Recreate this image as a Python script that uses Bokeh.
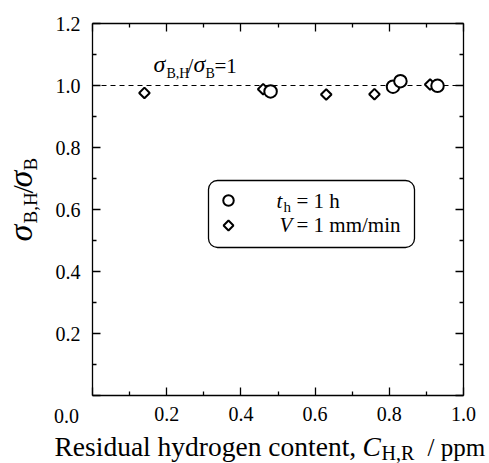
import numpy as np
from bokeh.plotting import figure
from bokeh.models import (Label, BoxAnnotation, LinearAxis, FixedTicker,
                          PrintfTickFormatter, Range1d)
from bokeh.embed import file_html
from bokeh.resources import INLINE

# ---- data ----
circle_x = [0.48, 0.81, 0.83, 0.93]
circle_y = [0.981, 0.996, 1.014, 0.999]
diamond_x = [0.14, 0.46, 0.63, 0.76, 0.91]
diamond_y = [0.976, 0.988, 0.971, 0.972, 1.003]
ref_ratio = 1.0
x_major = [0.0, 0.2, 0.4, 0.6, 0.8, 1.0]
x_minor = [0.1, 0.3, 0.5, 0.7, 0.9]
y_major = [0.0, 0.2, 0.4, 0.6, 0.8, 1.0, 1.2]
y_minor = [0.1, 0.3, 0.5, 0.7, 0.9, 1.1]

W, H = 489, 463
FL, FR, FT, FB = 92, 463, 23, 395          # plot box in page pixels
XMIN, XMAX, YMIN, YMAX = 0.0, 1.0, 0.0, 1.2
FONT = "'Liberation Serif', 'Times New Roman', Times, serif"
K = 0.38   # baseline compensation (fraction of font size)

def dx(px):
    return XMIN + (px - FL) / (FR - FL) * (XMAX - XMIN)

def dy(py):
    return YMIN + (FB - py) / (FB - FT) * (YMAX - YMIN)

# the drawing frame covers the whole page; axes are pinned to the plot box
p = figure(width=W, height=H,
           x_range=Range1d(dx(0), dx(W)), y_range=Range1d(dy(H), dy(0)),
           output_backend="svg", toolbar_location=None,
           min_border=0, min_border_left=0, min_border_right=0,
           min_border_top=0, min_border_bottom=0,
           x_axis_location=None, y_axis_location=None)
p.grid.visible = False
p.outline_line_color = None
p.background_fill_color = "white"
p.border_fill_color = "white"

def make_axis(loc, fixed, bounds, ticks, minor, labels=True, standoff=8):
    ax = LinearAxis(ticker=FixedTicker(ticks=ticks, minor_ticks=minor),
                    fixed_location=fixed, bounds=bounds)
    ax.axis_line_color = "black"
    ax.axis_line_width = 1.3
    ax.major_tick_in = 8
    ax.major_tick_out = 0
    ax.minor_tick_in = 4
    ax.minor_tick_out = 0
    ax.major_tick_line_width = 1.3
    ax.minor_tick_line_width = 1.3
    ax.major_label_text_font = FONT
    ax.major_label_text_font_size = "20px"
    ax.major_label_text_color = "black"
    ax.formatter = PrintfTickFormatter(format="%.1f")
    ax.major_label_standoff = standoff
    if labels:
        ax.major_label_overrides = {0: ""}
    else:
        ax.major_label_overrides = {t: "" for t in ticks}
    p.add_layout(ax, loc)
    return ax

make_axis("below", YMIN, (XMIN, XMAX), x_major, x_minor, True, 11)
make_axis("above", YMAX, (XMIN, XMAX), x_major, x_minor, False)
make_axis("left", XMIN, (YMIN, YMAX), y_major, y_minor, True, 12)
make_axis("right", XMAX, (YMIN, YMAX), y_major, y_minor, False)

# reference line sigma_BH/sigma_B = 1
p.segment(x0=[XMIN], y0=[ref_ratio], x1=[XMAX], y1=[ref_ratio],
          line_color="black", line_width=1.2, line_dash="5 4")

# data
p.scatter(diamond_x, diamond_y, marker="square", angle=np.pi / 4, size=7.5,
          fill_color="white", line_color="black", line_width=2)
p.scatter(circle_x, circle_y, marker="circle", size=12.5,
          fill_color="white", line_color="black", line_width=2)

def lab(text, px, py, size, italic=False, rotated=False, align="left"):
    """px, py: start of the text on its baseline, in page pixels."""
    if rotated:
        px = px - K * size
        angle = np.pi / 2
    else:
        py = py - K * size
        angle = 0.0
    p.add_layout(Label(x=dx(px), y=dy(py), text=text, text_font=FONT,
                       text_font_size=f"{size}px",
                       text_font_style="italic" if italic else "normal",
                       text_color="black", angle=angle,
                       text_align=align, text_baseline="alphabetic"))

# origin label
p.add_layout(Label(x=dx(66), y=dy(415), text="0.0", text_font=FONT,
                   text_font_size="20px", text_color="black",
                   text_align="center", text_baseline="middle"))

# annotation sigma_BH/sigma_B = 1
lab("σ", 153, 73, 24, italic=True)
lab("B,H", 166, 78, 14)
lab("/", 187, 73, 21)
lab("σ", 193, 73, 24, italic=True)
lab("B", 205, 78, 14)
lab("=1", 214, 73, 21)

# legend
p.add_layout(BoxAnnotation(left=dx(208), right=dx(414), top=dy(180), bottom=dy(247),
                           fill_color="white", fill_alpha=1.0, line_color="black",
                           line_alpha=1.0, line_width=1.3, border_radius=9,
                           level="underlay"))
p.scatter([dx(228)], [dy(200)], marker="circle", size=10.5, fill_color="white",
          line_color="black", line_width=2)
p.scatter([dx(228)], [dy(225)], marker="square", angle=np.pi / 4, size=7,
          fill_color="white", line_color="black", line_width=2)
lab("t", 276, 208, 21, italic=True)
lab("h", 283, 212, 15)
lab("= 1 h", 296, 208, 21)
lab("V", 279, 232, 21, italic=True)
lab("= 1 mm/min", 296, 232, 21)

# x axis label
lab("Residual hydrogen content, ", 54, 456, 27.5)
lab("C", 362, 456, 27.5, italic=True)
lab("H,R", 381, 460, 20)
lab("/ ppm", 427, 456, 25)

# y axis label (rotated, reading upward)
lab("σ", 33, 241, 34, italic=True, rotated=True)
lab("B,H", 37, 223, 19, rotated=True)
lab("/", 33, 193, 30, rotated=True)
lab("σ", 33, 187, 34, italic=True, rotated=True)
lab("B", 37, 170, 19, rotated=True)

open("out.html", "w").write(file_html(p, INLINE))
